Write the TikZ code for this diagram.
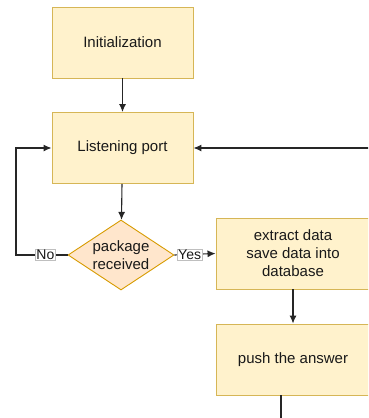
\documentclass[tikz,border=0pt]{standalone}
\usepackage{fontspec}
\setmainfont{Liberation Sans}
\usetikzlibrary{arrows.meta,shapes.geometric}
\definecolor{boxfill}{HTML}{FFF2CC}
\definecolor{boxline}{HTML}{D6B656}
\definecolor{decfill}{HTML}{FFE6CC}
\definecolor{decline}{HTML}{D79B00}
\tikzset{
	stepbox/.style={rectangle, draw=boxline, fill=boxfill, line width=0.9pt,
		minimum width=141pt, minimum height=71pt, inner sep=0pt, align=center,
		text=black!90, font=\fontsize{15}{18}\selectfont},
	decision/.style={diamond, draw=decline, fill=decfill, line width=0.9pt,
		minimum width=106pt, minimum height=70pt, inner sep=0pt, aspect=1.5,
		align=center, text=black!90, font=\fontsize{15}{18}\selectfont},
	tag/.style={draw=black!25, fill=white, inner sep=0.8pt, line width=0.5pt,
		text=black!90, font=\fontsize{14}{15}\selectfont},
	flow/.style={draw=black!85, line width=1.1pt, -{Latex[length=8pt,width=7pt]}}
}
\begin{document}
\begin{tikzpicture}[x=1pt, y=-1pt]
	\useasboundingbox (0,0) rectangle (368,418);
	\clip (0,0) rectangle (368,418);
	\node[stepbox] (init) at (122.5, 42.5) {Initialization};
	\node[stepbox] (listen) at (122.5, 148) {Listening port};
	\node[decision] (recv) at (121, 255) {package\\received};
	\node[stepbox, minimum width=154pt] (extract) at (293, 253.5) {extract data\\save data into\\database};
	\node[stepbox, minimum width=154pt] (push) at (293, 359.5) {push the answer};
	\coordinate (back) at (372, 148);
	\coordinate (loop) at (16, 255);
	\coordinate (down) at (281, 420);
	% main flow
	\draw[flow] (init) to (listen);
	\draw[flow] (listen) to (recv);
	\draw[flow] (recv.east) to node[tag, pos=0.37] {Yes} (extract.west);
	\draw[flow] (recv.west) to node[tag, pos=0.43] {No} (loop) |- (listen.west);
	\draw[flow] (extract) to (push);
	\draw[flow] (back) to (listen.east);
	\draw[draw=black!85, line width=1.1pt] (push.south -| down) to (down);
\end{tikzpicture}
\end{document}
